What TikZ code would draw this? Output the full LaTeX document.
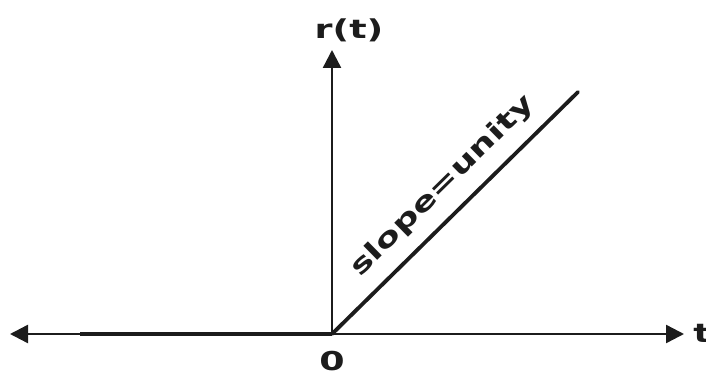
\documentclass[tikz,border=0pt]{standalone}
\usepackage{fontspec}
\setmainfont{DejaVu Sans}
\usetikzlibrary{arrows.meta}
\definecolor{ink}{RGB}{28,28,28}
\tikzset{
  axisline/.style={draw=ink, line width=2.4pt},
  tip/.style={-{Triangle[length=18pt,width=18pt]}},
  heavy/.style={draw=ink, line width=3.8pt},
  lbl/.style={text=ink, inner sep=2pt, font=\fontsize{26}{30}\selectfont\bfseries},
}
\newcommand{\wide}[1]{\scalebox{1.4}[1]{#1}}
\begin{document}
\begin{tikzpicture}[x=1pt,y=-1pt]
\useasboundingbox (0,0) rectangle (706,374);
\coordinate (O) at (332,334);
\coordinate (L) at (10,334);
\coordinate (R) at (684,334);
\coordinate (T) at (332,50);
\coordinate (K) at (80,334);
\coordinate (E) at (578,92);
\draw[axisline, tip] (O) -- (L);
\draw[axisline, tip] (O) -- (R);
\draw[axisline, tip] (O) -- (T);
\draw[heavy] (K) -- (O);
\draw[heavy, line cap=round] (O) -- (E) node[lbl, pos=0.53, sloped, above=11pt] {\wide{slope=unity}};
\node[lbl] (rt) at (349,30) {\wide{r(t)}};
\node[lbl] (tl) at (702,333) {\wide{t}};
\node[lbl] (zero) at (332,361) {\wide{0}};
\end{tikzpicture}
\end{document}
